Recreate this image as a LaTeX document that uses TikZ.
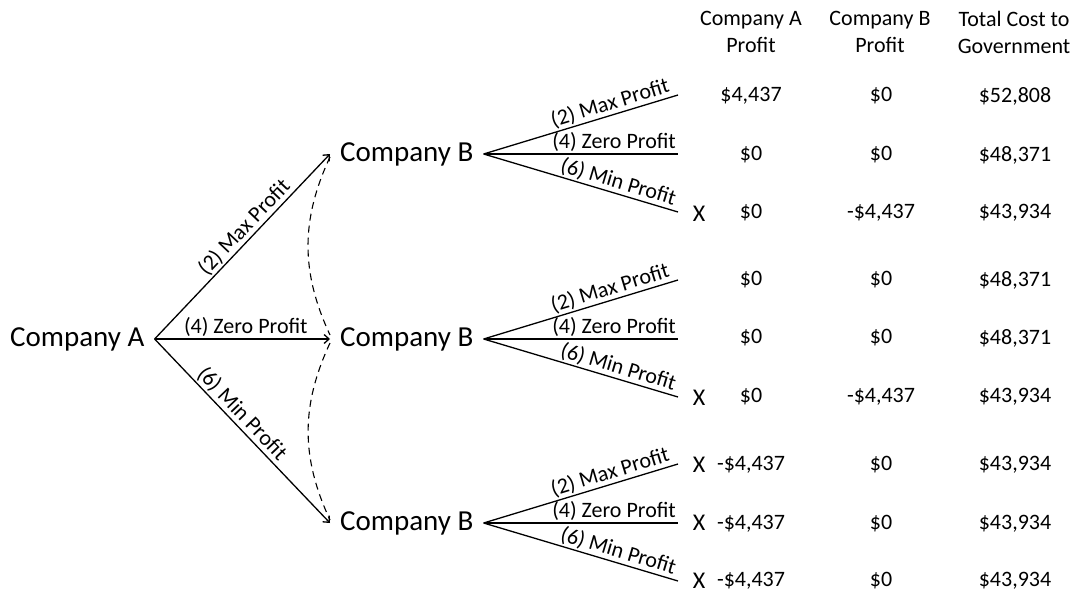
\documentclass[tikz,border=0pt]{standalone}
\usepackage{fontspec}
\setmainfont{Carlito}
\usetikzlibrary{arrows.meta}

\tikzset{
  player/.style={font=\fontsize{29}{32}\selectfont, inner xsep=10pt, inner ysep=0pt},
  move/.style={line width=1.3pt},
  info/.style={dash pattern=on 7pt off 5pt, line width=1.1pt},
  choice/.style={font=\fontsize{22}{26}\selectfont, sloped, inner sep=1.5pt},
  cell/.style={font=\fontsize{22}{27}\selectfont, align=center, inner sep=0pt},
  cross/.style={font=\fontsize{24}{28}\selectfont, inner sep=0pt}
}

\begin{document}
\begin{tikzpicture}[x=1pt, y=-1pt, >={Straight Barb[length=5pt,width=9pt]}]
\useasboundingbox (0,0) rectangle (1076,594);

% players
\node[player, anchor=west] (A) at (0,339) {Company A};
\node[player, anchor=west] (B1) at (330,154) {Company B};
\node[player, anchor=west] (B2) at (330,339) {Company B};
\node[player, anchor=west] (B3) at (330,523) {Company B};

% moves of company A
\draw[move,->] (A.east) -- (B1.west) node[choice, pos=.56, above] {(2) Max Profit};
\draw[move,->] (A.east) -- (B2.west) node[choice, pos=.52, above] {(4) Zero Profit};
\draw[move,->] (A.east) -- (B3.west) node[choice, pos=.45, above] {(6) Min Profit};

% information set
\draw[info] ([yshift=-3pt]B1.west) to[bend right=25] ([yshift=4pt]B2.west);
\draw[info] ([yshift=-4pt]B2.west) to[bend right=25] ([yshift=3pt]B3.west);

% moves of company B
\coordinate (b1max) at (678,95);
\coordinate (b1zero) at (678,154);
\coordinate (b1min) at (678,212);
\coordinate (b2max) at (678,280);
\coordinate (b2zero) at (678,339);
\coordinate (b2min) at (678,397);
\coordinate (b3max) at (678,464);
\coordinate (b3zero) at (678,523);
\coordinate (b3min) at (678,581);

\draw[move] (B1.east) -- (b1max) node[choice, pos=.98, anchor=south east] {(2) Max Profit};
\draw[move] (B1.east) -- (b1zero) node[choice, pos=1, anchor=south east] {(4) Zero Profit};
\draw[move] (B1.east) -- (b1min) node[choice, pos=.98, anchor=south east] {(6) Min Profit};

\draw[move] (B2.east) -- (b2max) node[choice, pos=.98, anchor=south east] {(2) Max Profit};
\draw[move] (B2.east) -- (b2zero) node[choice, pos=1, anchor=south east] {(4) Zero Profit};
\draw[move] (B2.east) -- (b2min) node[choice, pos=.98, anchor=south east] {(6) Min Profit};

\draw[move] (B3.east) -- (b3max) node[choice, pos=.98, anchor=south east] {(2) Max Profit};
\draw[move] (B3.east) -- (b3zero) node[choice, pos=1, anchor=south east] {(4) Zero Profit};
\draw[move] (B3.east) -- (b3min) node[choice, pos=.98, anchor=south east] {(6) Min Profit};

% ruled out outcomes
\node[cross] (x1min) at (699,214) {X};
\node[cross] (x2min) at (699,398) {X};
\node[cross] (x3max) at (699,465) {X};
\node[cross] (x3zero) at (699,523) {X};
\node[cross] (x3min) at (699,581) {X};

% table of payoffs
\node[cell] (hA) at (751,32) {Company A\\Profit};
\node[cell] (hB) at (880,32) {Company B\\Profit};
\node[cell] (hC) at (1014,32) {Total Cost to\\Government};

\node[cell] (a1) at (751,96) {\$4,437};
\node[cell] (b1) at (881,96) {\$0};
\node[cell] (c1) at (1015,96) {\$52,808};
\node[cell] (a2) at (751,155) {\$0};
\node[cell] (b2) at (881,155) {\$0};
\node[cell] (c2) at (1015,155) {\$48,371};
\node[cell] (a3) at (751,213) {\$0};
\node[cell] (b3) at (881,213) {-\$4,437};
\node[cell] (c3) at (1015,213) {\$43,934};

\node[cell] (a4) at (751,280) {\$0};
\node[cell] (b4) at (881,280) {\$0};
\node[cell] (c4) at (1015,280) {\$48,371};
\node[cell] (a5) at (751,338) {\$0};
\node[cell] (b5) at (881,338) {\$0};
\node[cell] (c5) at (1015,338) {\$48,371};
\node[cell] (a6) at (751,397) {\$0};
\node[cell] (b6) at (881,397) {-\$4,437};
\node[cell] (c6) at (1015,397) {\$43,934};

\node[cell] (a7) at (751,465) {-\$4,437};
\node[cell] (b7) at (881,465) {\$0};
\node[cell] (c7) at (1015,465) {\$43,934};
\node[cell] (a8) at (751,524) {-\$4,437};
\node[cell] (b8) at (881,524) {\$0};
\node[cell] (c8) at (1015,524) {\$43,934};
\node[cell] (a9) at (751,581) {-\$4,437};
\node[cell] (b9) at (881,581) {\$0};
\node[cell] (c9) at (1015,581) {\$43,934};
\end{tikzpicture}
\end{document}
